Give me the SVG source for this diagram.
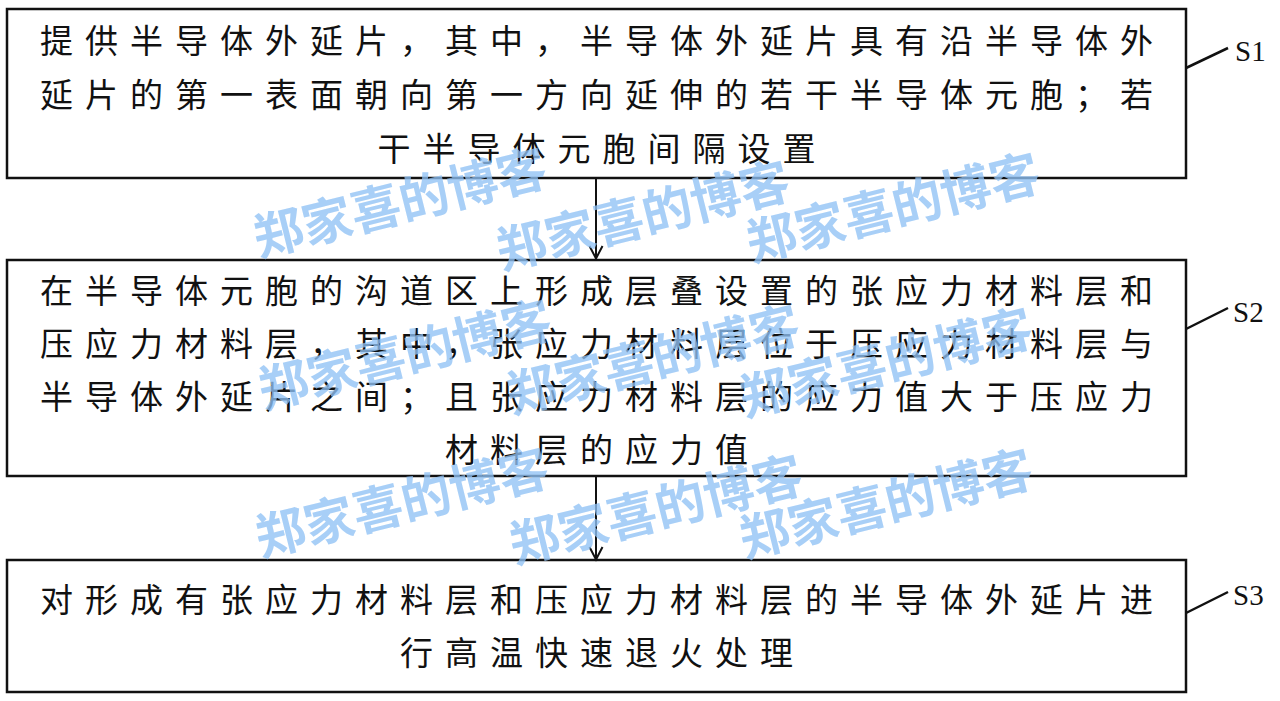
<svg xmlns="http://www.w3.org/2000/svg" width="1280" height="701" viewBox="0 0 1280 701">
<style>
.box{fill:#fff;stroke:#111;stroke-width:2.5}
.t{font-family:"Noto Sans CJK SC","Noto Sans CJK JP",sans-serif;font-size:33px;letter-spacing:12px;fill:#111}
.lbl{font-family:"Liberation Serif","Times New Roman",serif;font-size:29px;fill:#111}
.lead{fill:none;stroke:#111;stroke-width:2.5}
.conn{fill:none;stroke:#111;stroke-width:2}
.wm{font-family:"Noto Sans CJK SC",sans-serif;font-size:50px;font-weight:700;fill:#8fc1f5;fill-opacity:0.78;text-anchor:middle}
</style>
<rect width="1280" height="701" fill="#fff"/>
<g id="node-s1">
<rect class="box" x="7" y="9" width="1179" height="169"/>
<text class="t" x="40" y="52.5">提供半导体外延片，其中，半导体外延片具有沿半导体外</text>
<text class="t" x="40" y="106.5">延片的第一表面朝向第一方向延伸的若干半导体元胞；若</text>
<text class="t" x="377.5" y="160.5">干半导体元胞间隔设置</text>
<path class="lead" d="M1186,68 L1228,48"/>
<text class="lbl" x="1235" y="61">S1</text>
</g>
<g id="node-s2">
<rect class="box" x="7" y="260" width="1179" height="216"/>
<text class="t" x="40" y="302.5">在半导体元胞的沟道区上形成层叠设置的张应力材料层和</text>
<text class="t" x="40" y="355.5">压应力材料层，其中，张应力材料层位于压应力材料层与</text>
<text class="t" x="40" y="408.5">半导体外延片之间；且张应力材料层的应力值大于压应力</text>
<text class="t" x="445" y="461.5">材料层的应力值</text>
<path class="lead" d="M1186,329 L1228,308"/>
<text class="lbl" x="1233" y="322">S2</text>
</g>
<g id="node-s3">
<rect class="box" x="7" y="560" width="1179" height="132"/>
<text class="t" x="40" y="611.5">对形成有张应力材料层和压应力材料层的半导体外延片进</text>
<text class="t" x="400" y="664.5">行高温快速退火处理</text>
<path class="lead" d="M1186,613 L1228,592"/>
<text class="lbl" x="1233" y="605">S3</text>
</g>
<g id="connectors">
<path class="conn" d="M596,178 V258 M589.5,246 L596,258.5 L602.5,246"/>
<path class="conn" d="M596,476 V559 M589.5,547 L596,559.5 L602.5,547"/>
</g>
<g id="watermarks">
<text class="wm" transform="translate(400,203) rotate(-14)" y="18">郑家喜的博客</text>
<text class="wm" transform="translate(643,216) rotate(-14)" y="18">郑家喜的博客</text>
<text class="wm" transform="translate(893,208) rotate(-14)" y="18">郑家喜的博客</text>
<text class="wm" transform="translate(405,355) rotate(-14)" y="18">郑家喜的博客</text>
<text class="wm" transform="translate(653,360) rotate(-14)" y="18">郑家喜的博客</text>
<text class="wm" transform="translate(886,363) rotate(-14)" y="18">郑家喜的博客</text>
<text class="wm" transform="translate(402,503) rotate(-14)" y="18">郑家喜的博客</text>
<text class="wm" transform="translate(656,510) rotate(-14)" y="18">郑家喜的博客</text>
<text class="wm" transform="translate(886,504) rotate(-14)" y="18">郑家喜的博客</text>
</g>
</svg>
